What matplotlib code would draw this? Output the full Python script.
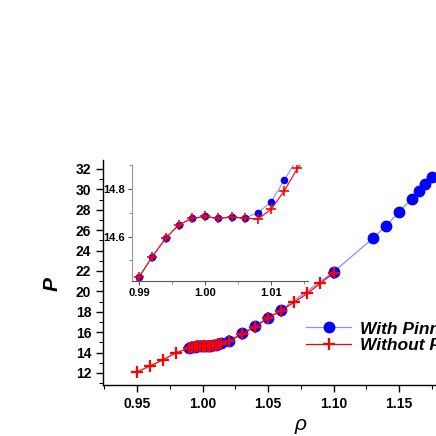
import matplotlib
matplotlib.use("Agg")
import matplotlib.pyplot as plt
from matplotlib.ticker import MultipleLocator

plt.rcParams['font.family'] = ['Liberation Sans', 'DejaVu Sans']
plt.rcParams['font.weight'] = 'bold'

# Data: With pinning (blue circles)
rho_with = [0.990, 0.992, 0.994, 0.996, 0.998, 1.000, 1.002, 1.004, 1.006, 1.008,
            1.010, 1.012, 1.014, 1.02, 1.03, 1.04, 1.05, 1.06, 1.10,
            1.13, 1.14, 1.15, 1.16, 1.165, 1.17, 1.175]
P_with = [14.431, 14.516, 14.593, 14.650, 14.677, 14.685, 14.677, 14.682, 14.678, 14.701,
          14.746, 14.838, 14.93, 15.15, 15.9, 16.6, 17.4, 18.2, 21.9,
          25.2, 26.4, 27.8, 29.1, 29.8, 30.5, 31.2]

# Data: Without pinning (red crosses)
rho_without = [0.95, 0.96, 0.97, 0.98, 0.990, 0.992, 0.994, 0.996, 0.998, 1.000, 1.002,
               1.004, 1.006, 1.008, 1.010, 1.012, 1.014, 1.02, 1.03, 1.04, 1.05, 1.06,
               1.07, 1.08, 1.09, 1.10]
P_without = [12.1, 12.7, 13.3, 14.0, 14.431, 14.516, 14.593, 14.650, 14.677, 14.685, 14.677,
             14.682, 14.678, 14.674, 14.715, 14.793, 14.888, 15.1, 15.8, 16.5, 17.4, 18.1,
             18.95, 19.8, 20.8, 21.8]

labels = ["With Pinning", "Without Pinning"]

main_xticks = [0.95, 1.00, 1.05, 1.10, 1.15]
main_yticks = [12, 14, 16, 18, 20, 22, 24, 26, 28, 30, 32]
inset_xticks = [0.99, 1.00, 1.01]
inset_yticks = [14.6, 14.8]

W = H = 436
fig = plt.figure(figsize=(4.36, 4.36), dpi=100)

# Main axes
ax = fig.add_axes([103 / W, 1 - 385 / H, 1 - 103 / W, (385 - 160) / H])
ax.plot(rho_with, P_with, color='#8c8cff', lw=0.9, marker='o', ms=7.5,
        mfc='#0000ff', mec='#0000ff', label=labels[0], zorder=2)
ax.plot(rho_without, P_without, color='#ff0000', lw=0.9, marker='+', ms=9,
        mew=1.6, label=labels[1], zorder=3)
ax.set_xlim(0.924, 1.1782)
ax.set_ylim(10.82, 32.88)
ax.set_xticks(main_xticks)
ax.set_xticklabels([f"{v:.2f}" for v in main_xticks])
ax.set_yticks(main_yticks)
ax.xaxis.set_minor_locator(MultipleLocator(0.025))
ax.yaxis.set_minor_locator(MultipleLocator(1))
for s in ['top', 'right']:
    ax.spines[s].set_visible(False)
for s in ['left', 'bottom']:
    ax.spines[s].set_linewidth(1.0)
ax.tick_params(which='major', direction='out', length=5, width=1.0, labelsize=10)
ax.tick_params(which='minor', direction='out', length=3, width=0.8)
for t in ax.get_xticklabels() + ax.get_yticklabels():
    t.set_fontweight('bold')
ax.patch.set_alpha(0)

# Axis labels placed in figure pixels
fig.text(301 / W, 1 - 424 / H, 'ρ', fontsize=15, fontstyle='italic', fontweight='normal',
         ha='center', va='center')
fig.text(52 / W, 1 - 284 / H, 'P', fontsize=15, fontstyle='italic', fontweight='bold',
         rotation=90, ha='center', va='center')

# Legend
fig.legend(loc='center left', bbox_to_anchor=(306 / W, 1 - 337 / H), frameon=False,
           borderpad=0, borderaxespad=0, handlelength=2.6, handletextpad=0.5,
           labelspacing=0.05, prop={'size': 12.5, 'weight': 'bold', 'style': 'italic'})

# Inset
ins = fig.add_axes([132 / W, 1 - 281 / H, (308 - 132) / W, (281 - 165) / H])
ins.plot(rho_with, P_with, color='#8c8cff', lw=0.8, marker='o', ms=4.5,
         mfc='#0000ff', mec='#0000ff', zorder=2)
ins.plot(rho_without, P_without, color='#ff0000', lw=0.8, marker='+', ms=6.5,
         mew=1.2, zorder=3)
ins.set_xlim(0.9889, 1.0156)
ins.set_ylim(14.413, 14.902)
ins.set_xticks(inset_xticks)
ins.set_xticklabels([f"{v:.2f}" for v in inset_xticks])
ins.set_yticks(inset_yticks)
ins.set_yticklabels([f"{v:.1f}" for v in inset_yticks])
ins.yaxis.set_minor_locator(MultipleLocator(0.1))
ins.xaxis.set_minor_locator(MultipleLocator(0.005))
for s in ['top', 'right']:
    ins.spines[s].set_visible(False)
ins.spines['left'].set_color('#999999')
ins.spines['bottom'].set_color('#555555')
ins.tick_params(which='major', direction='out', length=3, width=0.8, labelsize=8,
                colors='#555555', labelcolor='black', pad=2)
ins.tick_params(which='minor', direction='out', length=2, width=0.6, colors='#777777')
for t in ins.get_xticklabels() + ins.get_yticklabels():
    t.set_fontweight('bold')
ins.patch.set_alpha(0)

fig.savefig('out.png', dpi=100)
